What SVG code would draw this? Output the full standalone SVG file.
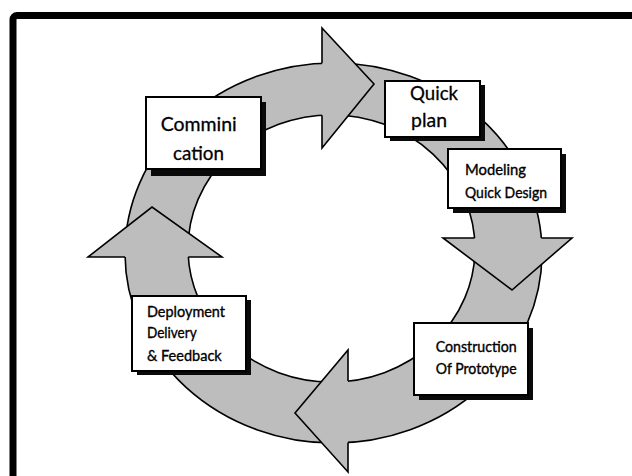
<svg xmlns="http://www.w3.org/2000/svg" width="632" height="476" viewBox="0 0 632 476">
<defs>
<style>
.ring{fill:#bdbdbd;stroke:#000;stroke-width:1.6;fill-rule:evenodd}
.head{fill:#bdbdbd;stroke:none}
.edge{fill:none;stroke:#000;stroke-width:1.6;stroke-linejoin:miter}
.box{fill:#fff;stroke:#000;stroke-width:2}
.shadow{fill:#0a0a0a}
.big{font-family:Lato,"Liberation Sans",sans-serif;font-size:20px;fill:#000;stroke:#000;stroke-width:0.3}
.small{font-family:Lato,"Liberation Sans",sans-serif;font-size:14.5px;fill:#000;stroke:#000;stroke-width:0.35}
</style>
</defs>
<rect width="632" height="476" fill="#fff"/>
<rect x="13" y="15.5" width="660" height="500" rx="4" fill="none" stroke="#000" stroke-width="7"/>
<g id="connectors">
<path class="ring" d="M125 253A208.5 190 0 1 0 542 253A208.5 190 0 1 0 125 253ZM188 248.5A143.5 133.5 0 1 0 475 248.5A143.5 133.5 0 1 0 188 248.5Z"/>
<polygon class="head" points="322,28 374,84 322,148"/>
<path class="edge" d="M322 63.3V28L374 84L322 148V115.3"/>
<polygon class="head" points="443,238 512,290 572,238"/>
<path class="edge" d="M474.5 238H443L512 290L572 238H541.4"/>
<polygon class="head" points="348,350 295,413 348,472"/>
<path class="edge" d="M348 381V350L295 413L348 472V442.5"/>
<polygon class="head" points="88,257 152,207 222,257"/>
<path class="edge" d="M125 257H88L152 207L222 257H188.3"/>
</g>
<g id="communication">
<rect class="shadow" x="151" y="102" width="115" height="74"/>
<rect class="box" x="146" y="97" width="115" height="72"/>
<text class="big" x="160.7" y="130.7" textLength="76" lengthAdjust="spacingAndGlyphs">Commini</text>
<text class="big" x="173" y="160" textLength="51" lengthAdjust="spacingAndGlyphs">cation</text>
</g>
<g id="quick-plan">
<rect class="shadow" x="390" y="85" width="95" height="56"/>
<rect class="box" x="385" y="81" width="95" height="56"/>
<text class="big" x="410" y="100" textLength="48" lengthAdjust="spacingAndGlyphs">Quick</text>
<text class="big" x="411" y="127" textLength="36" lengthAdjust="spacingAndGlyphs">plan</text>
</g>
<g id="modeling">
<rect class="shadow" x="453" y="154" width="113" height="59"/>
<rect class="box" x="448" y="149" width="113" height="59"/>
<text class="small" x="465" y="175" textLength="61" lengthAdjust="spacingAndGlyphs">Modeling</text>
<text class="small" x="465" y="197.7" textLength="82" lengthAdjust="spacingAndGlyphs">Quick Design</text>
</g>
<g id="construction">
<rect class="shadow" x="419" y="328" width="114" height="72"/>
<rect class="box" x="414" y="323" width="114" height="72"/>
<text class="small" x="435.7" y="352" textLength="81" lengthAdjust="spacingAndGlyphs">Construction</text>
<text class="small" x="435.7" y="373.7" textLength="81" lengthAdjust="spacingAndGlyphs">Of Prototype</text>
</g>
<g id="deployment">
<rect class="shadow" x="137" y="300" width="114" height="75"/>
<rect class="box" x="132" y="296" width="114" height="75"/>
<text class="small" x="147" y="316.7" textLength="78" lengthAdjust="spacingAndGlyphs">Deployment</text>
<text class="small" x="147" y="338" textLength="49.7" lengthAdjust="spacingAndGlyphs">Delivery</text>
<text class="small" x="147" y="360.7" textLength="74.7" lengthAdjust="spacingAndGlyphs">&amp; Feedback</text>
</g>
</svg>
